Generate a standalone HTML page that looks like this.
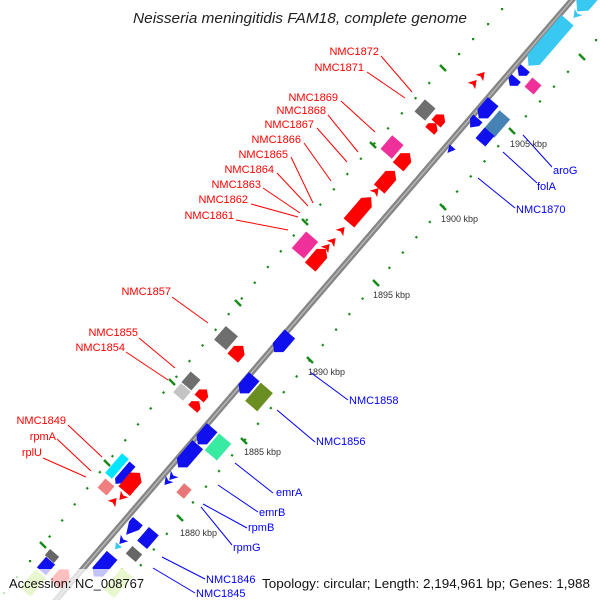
<!DOCTYPE html>
<html><head><meta charset="utf-8"><style>
html,body{margin:0;padding:0;background:#fff;}
svg{display:block;}
text{font-family:"Liberation Sans",sans-serif;}
</style></head><body>
<svg width="600" height="600" viewBox="0 0 600 600" xmlns="http://www.w3.org/2000/svg">
<rect width="600" height="600" fill="#fff"/>
<!-- dot rows -->
<g stroke="#1a8a1a" stroke-width="2.2" fill="none">
<polyline points="582,57 512,131 443,207 376,283 310,360 244,441 180,518 116,595" stroke-dasharray="2.2 18.2" stroke-dashoffset="1.1"/>
<polyline points="443,68 373,145 305,222 238,303 172,382 107,463 43,545" stroke-dasharray="2.2 18.2" stroke-dashoffset="1.1"/>
</g>
<g fill="#1a8a1a">
<rect x="595" y="39" width="2.2" height="2.2"/>
<rect x="501" y="8" width="2.2" height="2.2"/><rect x="487" y="23" width="2.2" height="2.2"/><rect x="472" y="38" width="2.2" height="2.2"/><rect x="458" y="53" width="2.2" height="2.2"/>
<rect x="29" y="560" width="2.2" height="2.2"/><rect x="16" y="576" width="2.2" height="2.2"/><rect x="3" y="592" width="2.2" height="2.2"/>
</g>
<g stroke="#1a8a1a" stroke-width="2.5">
<line x1="579" y1="54" x2="585" y2="60"/><line x1="509" y1="128" x2="515" y2="134"/><line x1="440" y1="204" x2="446" y2="210"/><line x1="373" y1="280" x2="379" y2="286"/><line x1="307" y1="357" x2="313" y2="363"/><line x1="241" y1="438" x2="247" y2="444"/><line x1="177" y1="515" x2="183" y2="521"/>
<line x1="440" y1="65" x2="446" y2="71"/><line x1="370" y1="142" x2="376" y2="148"/><line x1="302" y1="219" x2="308" y2="225"/><line x1="235" y1="300" x2="241" y2="306"/><line x1="169" y1="379" x2="175" y2="385"/><line x1="104" y1="460" x2="110" y2="466"/><line x1="40" y1="542" x2="46" y2="548"/>
</g>
<!-- main axis -->
<line x1="578" y1="-7" x2="50" y2="607" stroke="#858585" stroke-width="6"/>
<line x1="578" y1="-7" x2="50" y2="607" stroke="#b5b5b5" stroke-width="1.5"/>

<!-- blue side genes -->
<g transform="translate(600,-15) rotate(-49.3)"><polygon points="35,-8 -27,-8 -35,0 -27,8 35,8" fill="#38c8f2"/></g>
<g transform="translate(548,43) rotate(-49.3)"><polygon points="30,-8 -22,-8 -30,0 -22,8 30,8" fill="#38c8f2"/></g>
<g transform="translate(576,15) rotate(-49.3)"><polygon points="4,-5 -4,0 4,5 2,0" fill="#38c8f2"/></g>
<g transform="translate(522,72) rotate(-49.3)"><polygon points="5,-6 0,-6 -5,0 0,6 5,6" fill="#1010ee"/></g>
<g transform="translate(513,82) rotate(-49.3)"><polygon points="5,-6 0,-6 -5,0 0,6 5,6" fill="#1010ee"/></g>
<g transform="translate(533,86) rotate(-49.3)"><rect x="-6" y="-6" width="12" height="12" fill="#f0309a"/></g>
<g transform="translate(486,110) rotate(-49.3)"><polygon points="11,-7 -5,-7 -11,0 -5,7 11,7" fill="#1010ee"/></g>
<g transform="translate(474,123) rotate(-49.3)"><polygon points="6,-6 1,-6 -6,0 1,6 6,6" fill="#1010ee"/></g>
<g transform="translate(497,124) rotate(-49.3)"><rect x="-12" y="-7" width="24" height="14" fill="#4682b4"/></g>
<g transform="translate(485,137) rotate(-49.3)"><rect x="-7" y="-6.5" width="14" height="13" fill="#1010ee"/></g>
<g transform="translate(450,150) rotate(-49.3)"><polygon points="4,-4 -4,0 4,4" fill="#1010ee"/></g>
<g transform="translate(282,343) rotate(-49.3)"><polygon points="12,-7 -6,-7 -12,0 -6,7 12,7" fill="#1010ee"/></g>
<g transform="translate(247,385) rotate(-49.3)"><polygon points="11,-7 -5,-7 -11,0 -5,7 11,7" fill="#1010ee"/></g>
<g transform="translate(259,397) rotate(-49.3)"><rect x="-12" y="-8" width="24" height="16" fill="#6b8e23"/></g>
<g transform="translate(205,436) rotate(-49.3)"><polygon points="11,-7 -5,-7 -11,0 -5,7 11,7" fill="#1010ee"/></g>
<g transform="translate(188,456) rotate(-49.3)"><polygon points="15,-7 -9,-7 -15,0 -9,7 15,7" fill="#1010ee"/></g>
<g transform="translate(218,447) rotate(-49.3)"><rect x="-11" y="-8" width="22" height="16" fill="#38eaa2"/></g>
<g transform="translate(172,477) rotate(-49.3)"><polygon points="4,-5 -4,0 4,5 2,0" fill="#1010ee"/></g>
<g transform="translate(167,482) rotate(-49.3)"><polygon points="4,-5 -4,0 4,5 2,0" fill="#1010ee"/></g>
<g transform="translate(184,491) rotate(-49.3)"><rect x="-6" y="-5" width="12" height="10" fill="#e87878"/></g>
<g transform="translate(132,528) rotate(-49.3)"><polygon points="9,-6.5 3,-6.5 -9,0 3,6.5 9,6.5" fill="#1010ee"/></g>
<g transform="translate(122,541) rotate(-49.3)"><polygon points="4,-5 -4,0 4,5 2,0" fill="#1010ee"/></g>
<g transform="translate(117,547) rotate(-49.3)"><polygon points="3,-4 -3,0 3,4" fill="#38c8f2"/></g>
<g transform="translate(148,538) rotate(-49.3)"><rect x="-9" y="-6.5" width="18" height="13" fill="#1010ee"/></g>
<g transform="translate(134,554) rotate(-49.3)"><rect x="-5" y="-6.5" width="10" height="13" fill="#666"/></g>
<g transform="translate(103,566) rotate(-49.3)"><polygon points="14,-7 -8,-7 -14,0 -8,7 14,7" fill="#1010ee"/></g>
<g transform="translate(118,583) rotate(-49.3)"><rect x="-14" y="-7" width="28" height="14" fill="#a8e040"/></g>

<!-- red side genes -->
<g transform="translate(474,83) rotate(-49.3)"><polygon points="-4,-5 4,0 -4,5 -2,0" fill="#ff0000"/></g>
<g transform="translate(482,75) rotate(-49.3)"><polygon points="-4,-5 4,0 -4,5 -2,0" fill="#ff0000"/></g>
<g transform="translate(425,110) rotate(-49.3)"><rect x="-8" y="-7" width="16" height="14" fill="#6e6e6e"/></g>
<g transform="translate(440,119) rotate(-49.3)"><polygon points="-6,-6 1,-6 6,0 1,6 -6,6" fill="#ff0000"/></g>
<g transform="translate(433,127) rotate(-49.3)"><polygon points="-5,-6 0,-6 5,0 0,6 -5,6" fill="#ff0000"/></g>
<g transform="translate(392,147) rotate(-49.3)"><rect x="-9" y="-7.5" width="18" height="15" fill="#f0309a"/></g>
<g transform="translate(404,160) rotate(-49.3)"><polygon points="-9,-7 3,-7 9,0 3,7 -9,7" fill="#ff0000"/></g>
<g transform="translate(387,180) rotate(-49.3)"><polygon points="-12,-7 6,-7 12,0 6,7 -12,7" fill="#ff0000"/></g>
<g transform="translate(376,191) rotate(-49.3)"><polygon points="-4,-5 4,0 -4,5 -2,0" fill="#ff0000"/></g>
<g transform="translate(360,210) rotate(-49.3)"><polygon points="-17,-7 10,-7 17,0 10,7 -17,7" fill="#ff0000"/></g>
<g transform="translate(342,230) rotate(-49.3)"><polygon points="-4,-5 4,0 -4,5 -2,0" fill="#ff0000"/></g>
<g transform="translate(333,241) rotate(-49.3)"><polygon points="-4,-5 4,0 -4,5 -2,0" fill="#ff0000"/></g>
<g transform="translate(327,247) rotate(-49.3)"><polygon points="-4,-5 4,0 -4,5 -2,0" fill="#ff0000"/></g>
<g transform="translate(305,245) rotate(-49.3)"><rect x="-11" y="-8" width="22" height="16" fill="#f0309a"/></g>
<g transform="translate(318,258) rotate(-49.3)"><polygon points="-12,-7 6,-7 12,0 6,7 -12,7" fill="#ff0000"/></g>
<g transform="translate(226,338) rotate(-49.3)"><rect x="-9" y="-8" width="18" height="16" fill="#6e6e6e"/></g>
<g transform="translate(238,352) rotate(-49.3)"><polygon points="-8,-7 2,-7 8,0 2,7 -8,7" fill="#ff0000"/></g>
<g transform="translate(191,381) rotate(-49.3)"><rect x="-7" y="-6.5" width="14" height="13" fill="#6e6e6e"/></g>
<g transform="translate(182,392) rotate(-49.3)"><rect x="-6" y="-6.5" width="12" height="13" fill="#c4c4c4"/></g>
<g transform="translate(203,394) rotate(-49.3)"><polygon points="-6,-6 1,-6 6,0 1,6 -6,6" fill="#ff0000"/></g>
<g transform="translate(196,405) rotate(-49.3)"><polygon points="-5,-6 0,-6 5,0 0,6 -5,6" fill="#ff0000"/></g>
<g transform="translate(117,466) rotate(-49.3)"><rect x="-13" y="-4.5" width="26" height="9" fill="#00e5ff"/></g>
<g transform="translate(124,474) rotate(-49.3)"><polygon points="13,-4 -9,-4 -13,0 -9,4 13,4" fill="#1010ee"/></g>
<g transform="translate(106,487) rotate(-49.3)"><rect x="-6" y="-6" width="12" height="12" fill="#f08080"/></g>
<g transform="translate(132,482) rotate(-49.3)"><polygon points="-12,-7.5 6,-7.5 12,0 6,7.5 -12,7.5" fill="#ff0000"/></g>
<g transform="translate(114,501) rotate(-49.3)"><polygon points="-4,-5 4,0 -4,5 -2,0" fill="#ff0000"/></g>
<g transform="translate(122,497) rotate(-49.3)"><polygon points="4,-5 -4,0 4,5 2,0" fill="#ff0000"/></g>
<g transform="translate(52,556) rotate(-49.3)"><rect x="-4" y="-6" width="8" height="12" fill="#666"/></g>
<g transform="translate(46,566) rotate(-49.3)"><rect x="-7" y="-6" width="14" height="12" fill="#1010ee"/></g>
<g transform="translate(33,583) rotate(-49.3)"><rect x="-12" y="-7" width="24" height="14" fill="#a8e040"/></g>
<g transform="translate(62,577) rotate(-49.3)"><polygon points="-10,-7 4,-7 10,0 4,7 -10,7" fill="#ff0000"/></g>

<!-- label lines -->
<g stroke="#ff0000" stroke-width="1">
<line x1="381" y1="56" x2="412" y2="92"/><line x1="367" y1="72" x2="405" y2="98"/>
<line x1="341" y1="101" x2="375" y2="132"/><line x1="328" y1="115" x2="358" y2="152"/>
<line x1="317" y1="128" x2="347" y2="162"/><line x1="304" y1="143" x2="331" y2="181"/>
<line x1="291" y1="157" x2="313" y2="203"/><line x1="277" y1="173" x2="308" y2="206"/>
<line x1="263" y1="188" x2="300" y2="213"/><line x1="251" y1="204" x2="298" y2="217"/>
<line x1="236" y1="220" x2="288" y2="230"/>
<line x1="172" y1="297" x2="208" y2="323"/><line x1="139" y1="338" x2="175" y2="368"/>
<line x1="126" y1="352" x2="168" y2="380"/>
<line x1="68" y1="425" x2="102" y2="457"/><line x1="57" y1="439" x2="91" y2="471"/>
<line x1="43" y1="458" x2="86" y2="477"/>
</g>
<g stroke="#0000ff" stroke-width="1">
<line x1="523" y1="135" x2="552" y2="167"/><line x1="503" y1="152" x2="537" y2="183"/>
<line x1="478" y1="178" x2="515" y2="208"/><line x1="310" y1="372" x2="348" y2="400"/>
<line x1="277" y1="410" x2="315" y2="442"/><line x1="235" y1="463" x2="273" y2="493"/>
<line x1="218" y1="485" x2="258" y2="512"/><line x1="203" y1="504" x2="247" y2="528"/>
<line x1="201" y1="507" x2="232" y2="545"/><line x1="162" y1="557" x2="205" y2="579"/>
<line x1="153" y1="568" x2="195" y2="593"/>
</g>

<!-- labels -->
<g fill="#ff0000" font-size="11" text-anchor="end">
<text x="379" y="55">NMC1872</text><text x="364" y="71">NMC1871</text>
<text x="338" y="101">NMC1869</text><text x="326" y="114">NMC1868</text>
<text x="314" y="128">NMC1867</text><text x="301" y="143">NMC1866</text>
<text x="288" y="158">NMC1865</text><text x="274" y="173">NMC1864</text>
<text x="261" y="188">NMC1863</text><text x="248" y="203">NMC1862</text>
<text x="234" y="219">NMC1861</text>
<text x="171" y="295">NMC1857</text><text x="138" y="336">NMC1855</text>
<text x="125" y="351">NMC1854</text>
<text x="66" y="424">NMC1849</text><text x="56" y="440">rpmA</text><text x="42" y="456">rplU</text>
</g>
<g fill="#0000ff" font-size="11">
<text x="553" y="174">aroG</text><text x="537" y="190">folA</text>
<text x="516" y="213">NMC1870</text><text x="349" y="404">NMC1858</text>
<text x="316" y="445">NMC1856</text><text x="276" y="496">emrA</text>
<text x="259" y="516">emrB</text><text x="248" y="531">rpmB</text>
<text x="233" y="551">rpmG</text><text x="206" y="583">NMC1846</text>
<text x="196" y="597">NMC1845</text>
</g>
<g fill="#333" font-size="9">
<text x="510" y="147">1905 kbp</text><text x="441" y="222">1900 kbp</text>
<text x="373" y="298">1895 kbp</text><text x="308" y="375">1890 kbp</text>
<text x="244" y="455">1885 kbp</text><text x="180" y="536">1880 kbp</text>
</g>
<text x="300" y="23" text-anchor="middle" font-size="15" font-style="italic" fill="#222" textLength="334" lengthAdjust="spacingAndGlyphs">Neisseria meningitidis FAM18, complete genome</text>
<rect x="0" y="569" width="150" height="31" fill="#fff" fill-opacity="0.75"/>
<text x="9" y="588" font-size="13" fill="#111" textLength="135" lengthAdjust="spacingAndGlyphs">Accession: NC_008767</text>
<text x="262" y="588" font-size="13" fill="#111" textLength="328" lengthAdjust="spacingAndGlyphs">Topology: circular; Length: 2,194,961 bp; Genes: 1,988</text>
</svg>
</body></html>
